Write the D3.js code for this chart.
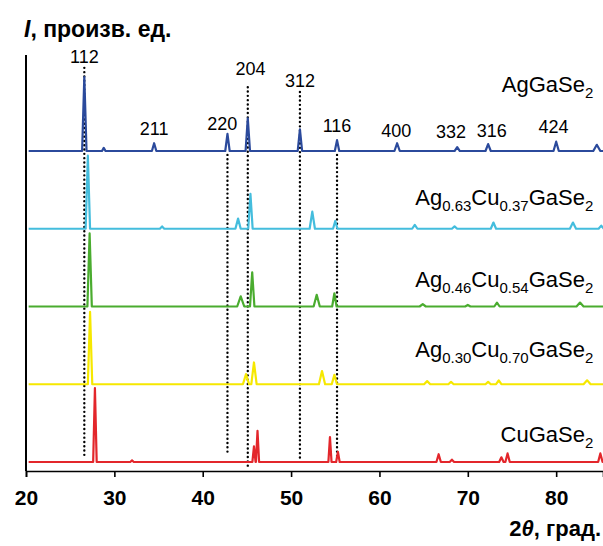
<!DOCTYPE html>
<html>
<head>
<meta charset="utf-8">
<script src="https://cdn.jsdelivr.net/npm/d3@7"></script>
<style>
  body { margin: 0; background: #fff; }
  svg { font-family: "Liberation Sans", Arial, sans-serif; }
</style>
</head>
<body>
<svg id="chart" width="603" height="546"></svg>
<script>
// peaks: [2theta, height (arb. units), half width]
var agGaSe2 = [[26.6, 95, 0.25], [28.8, 4, 0.2], [34.5, 10, 0.25], [42.8, 22, 0.25], [45.1, 42, 0.25],
  [51.0, 28, 0.25], [55.2, 14, 0.25], [62.0, 10, 0.3], [68.8, 5, 0.3], [72.3, 9, 0.3], [80.0, 12, 0.3], [84.6, 8, 0.4]];
var ag063 = [[27.0, 94, 0.25], [35.4, 3, 0.25], [44.0, 13, 0.3], [45.4, 45, 0.25], [52.4, 22, 0.3],
  [55.0, 10, 0.25], [64.0, 5, 0.3], [68.5, 3, 0.3], [72.9, 8, 0.3], [81.9, 8, 0.35], [85.1, 4, 0.3]];
var ag046 = [[27.2, 94, 0.25], [44.3, 13, 0.4], [45.6, 44, 0.25], [52.9, 15, 0.35], [54.9, 17, 0.25],
  [64.9, 3, 0.35], [70.0, 2, 0.3], [73.3, 5, 0.3], [82.7, 5, 0.4]];
var ag030 = [[27.25, 93, 0.25], [44.9, 13, 0.35], [45.8, 28, 0.3], [53.5, 17, 0.35], [54.9, 12, 0.3],
  [65.4, 4, 0.35], [68.1, 3, 0.3], [72.3, 3, 0.3], [73.5, 5, 0.3], [83.5, 5, 0.4]];
var cuGaSe2 = [[27.8, 95, 0.2], [32.0, 2, 0.2], [45.8, 20, 0.18], [46.2, 40, 0.18], [54.4, 32, 0.18],
  [55.3, 13, 0.2], [66.7, 10, 0.25], [68.2, 3, 0.25], [73.8, 6, 0.25], [74.5, 11, 0.25], [85.0, 11, 0.25]];

var seriesPeaks = [agGaSe2, ag063, ag046, ag030, cuGaSe2];
var seriesOffsets = [400, 300, 200, 100, 0];
var seriesColors = ['#2b4a9c', '#44bddd', '#4aac2f', '#f6e800', '#e3262b'];
var seriesNames = [
  [['AgGaSe', 0], ['2', 1]],
  [['Ag', 0], ['0.63', 1], ['Cu', 0], ['0.37', 1], ['GaSe', 0], ['2', 1]],
  [['Ag', 0], ['0.46', 1], ['Cu', 0], ['0.54', 1], ['GaSe', 0], ['2', 1]],
  [['Ag', 0], ['0.30', 1], ['Cu', 0], ['0.70', 1], ['GaSe', 0], ['2', 1]],
  [['CuGaSe', 0], ['2', 1]]
];
var nameLevels = [476, 330, 225, 135, 26];

// Miller indices over AgGaSe2: [label, 2theta, level]
var hklLabels = [['112', 26.6, 513], ['211', 34.5, 421], ['220', 42.2, 427], ['204', 45.4, 498],
  ['312', 51.0, 482], ['116', 55.2, 424], ['400', 61.9, 418], ['332', 68.1, 417],
  ['316', 72.7, 418], ['424', 79.7, 423]];
// reference lines: [2theta, top level, bottom level]
var refLines = [[26.6, 507, 8], [42.8, 395, 12], [45.1, 482, -5], [51.0, 476, 2], [55.2, 395, 5]];

var xTicks = [20, 30, 40, 50, 60, 70, 80];

var svg = d3.select('#chart');

var x = d3.scaleLinear().domain([20, 85.3]).range([26, 603]);
var y = d3.scaleLinear().domain([-11.6, 523.5]).range([471, 55]);

var line = d3.line()
  .x(function (d) { return x(d[0]); })
  .y(function (d) { return y(d[1]); });

function profile(peaks, offset) {
  var pts = [[20.3, offset]];
  peaks.forEach(function (p) {
    pts.push([p[0] - p[2], offset]);
    pts.push([p[0], offset + p[1]]);
    pts.push([p[0] + p[2], offset]);
  });
  pts.push([85.3, offset]);
  return pts;
}

svg.append('g').selectAll('line')
  .data(refLines)
  .enter().append('line')
  .attr('x1', function (d) { return x(d[0]); })
  .attr('x2', function (d) { return x(d[0]); })
  .attr('y1', function (d) { return y(d[1]); })
  .attr('y2', function (d) { return y(d[2]); })
  .attr('stroke', '#000')
  .attr('stroke-width', 2.4)
  .attr('stroke-linecap', 'round')
  .attr('stroke-dasharray', '0 4.3');

svg.append('g').selectAll('path')
  .data(seriesPeaks)
  .enter().append('path')
  .attr('d', function (d, i) { return line(profile(d, seriesOffsets[i])); })
  .attr('fill', 'none')
  .attr('stroke', function (d, i) { return seriesColors[i]; })
  .attr('stroke-width', 2.2)
  .attr('stroke-linejoin', 'round');

svg.append('g').selectAll('text')
  .data(hklLabels)
  .enter().append('text')
  .attr('x', function (d) { return x(d[1]); })
  .attr('y', function (d) { return y(d[2]); })
  .attr('text-anchor', 'middle')
  .attr('font-size', 18)
  .text(function (d) { return d[0]; });

var names = svg.append('g').selectAll('text')
  .data(seriesNames)
  .enter().append('text')
  .attr('x', x(84.2))
  .attr('y', function (d, i) { return y(nameLevels[i]); })
  .attr('text-anchor', 'end')
  .attr('font-size', 22);

names.each(function (parts) {
  var t = d3.select(this), shift = 0;
  parts.forEach(function (p) {
    var dy = p[1] ? 6 - shift : -shift;
    shift = p[1] ? 6 : 0;
    t.append('tspan')
      .attr('dy', dy)
      .attr('font-size', p[1] ? 15 : 22)
      .text(p[0]);
  });
});

// x axis
var xAxis = svg.append('g').attr('transform', 'translate(0,' + 471 + ')');
xAxis.call(d3.axisBottom(x).tickValues(d3.range(20, 86)).tickSize(4).tickFormat(''));
xAxis.call(d3.axisBottom(x).tickValues(xTicks).tickSize(6).tickFormat(d3.format('d')).tickPadding(13));
xAxis.selectAll('path.domain').attr('stroke-width', 1.6).attr('stroke', '#000');
xAxis.selectAll('.tick line').attr('stroke-width', 1.6).attr('stroke', '#000');
xAxis.selectAll('.tick text')
  .attr('font-size', 21)
  .attr('font-weight', 'bold')
  .attr('font-family', '"Liberation Sans", Arial, sans-serif')
  .attr('fill', '#000');

// y axis (no ticks)
svg.append('line')
  .attr('x1', x(20)).attr('x2', x(20))
  .attr('y1', y(523.5)).attr('y2', y(-11.6))
  .attr('stroke', '#000')
  .attr('stroke-width', 2);

var yTitle = svg.append('text')
  .attr('x', 24).attr('y', 37)
  .attr('font-size', 23)
  .attr('font-weight', 'bold');
yTitle.append('tspan').attr('font-style', 'italic').text('I');
yTitle.append('tspan').text(', произв. ед.');

var xTitle = svg.append('text')
  .attr('x', 601).attr('y', 536)
  .attr('text-anchor', 'end')
  .attr('font-size', 22)
  .attr('font-weight', 'bold');
xTitle.append('tspan').text('2');
xTitle.append('tspan').attr('font-style', 'italic').text('θ');
xTitle.append('tspan').text(', град.');
</script>
</body>
</html>
